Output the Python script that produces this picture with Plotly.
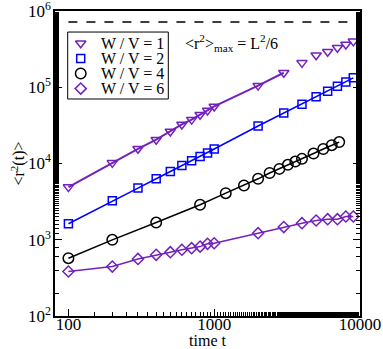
import plotly.graph_objects as go

# ---- data ----
t1 = [100, 200, 300, 400, 500, 600, 700, 800, 900, 1000, 2000, 3000, 4000, 5000, 6000, 7000, 8000, 9000]
r1 = [4900, 10200, 15600, 20500, 26300, 32500, 37600, 43500, 49700, 56000, 105000, 155000, 209000, 263000, 292000, 330000, 364000, 400000]
t2 = [100, 200, 300, 400, 500, 600, 700, 800, 900, 1000, 2000, 3000, 4000, 5000, 6000, 7000, 8000, 9000]
r2 = [1620, 3240, 4760, 6310, 7850, 9440, 10900, 12400, 13700, 15500, 31000, 46000, 60000, 75000, 88600, 103000, 117000, 133000]
t4 = [100, 200, 400, 800, 1200, 1600, 2000, 2400, 2800, 3200, 3600, 4000, 4800, 5600, 6400, 7200]
r4 = [573, 997, 1680, 2880, 4080, 5150, 6300, 7500, 8500, 9600, 10600, 11500, 13500, 15500, 17400, 19100]
t6 = [100, 200, 300, 400, 500, 600, 700, 800, 900, 1000, 2000, 3000, 4000, 5000, 6000, 7000, 8000, 9000]
r6 = [383, 445, 560, 635, 687, 740, 776, 813, 885, 900, 1220, 1466, 1650, 1790, 1860, 1860, 2020, 2020]
n_line1 = 12  # W/V=1 line drawn only up to t=3000

t_max = [100, 10000]
r_max = [720000, 720000]

labels = ["W / V = 1", "W / V = 2", "W / V = 4", "W / V = 6"]
xtick_vals = [100, 1000, 10000]
xtick_text = ["100", "1000", "10000"]
ytick_vals = [1e2, 1e3, 1e4, 1e5, 1e6]
ytick_text = ["10<sup>2</sup>", "10<sup>3</sup>", "10<sup>4</sup>", "10<sup>5</sup>", "10<sup>6</sup>"]

PURPLE = "#7221BC"
BLUE = "#0000FF"
BLACK = "#000000"
FONT = "Liberation Serif"

fig = go.Figure()

# dashed max line
fig.add_trace(go.Scatter(x=t_max, y=r_max, mode="lines",
                         line=dict(color="black", width=1.5, dash="dash"),
                         showlegend=False, hoverinfo="skip"))

series = [
    (t1[:n_line1], r1[:n_line1], t1, r1, PURPLE, "triangle-down-open", 9, 2.0),
    (t2, r2, t2, r2, BLUE, "square-open", 8, 1.5),
    (t4, r4, t4, r4, BLACK, "circle-open", 10.5, 1.5),
    (t6, r6, t6, r6, PURPLE, "diamond-open", 8.5, 1.5),
]
for lx, ly, mx, my, col, sym, size, lw in series:
    fig.add_trace(go.Scatter(x=lx, y=ly, mode="lines", line=dict(color=col, width=lw),
                             showlegend=False, hoverinfo="skip"))
    fig.add_trace(go.Scatter(x=mx, y=my, mode="markers", showlegend=False,
                             marker=dict(symbol=sym, size=size, color=col,
                                         line=dict(color=col, width=1.5))))

# ---- custom legend (box + markers on an overlay axis + text) ----
leg_x0, leg_x1, leg_y0, leg_y1 = 0.0416, 0.3715, 0.7115, 0.931
leg_mark_x = 0.0843
leg_text_x = 0.145
leg_row0, leg_step = 0.894, 0.0495
fig.add_shape(type="rect", xref="paper", yref="paper",
              x0=leg_x0, x1=leg_x1, y0=leg_y0, y1=leg_y1,
              line=dict(color="black", width=1), fillcolor="white", layer="below")
for i, (lx, ly, mx, my, col, sym, size, lw) in enumerate(series):
    yy = leg_row0 - i * leg_step
    fig.add_trace(go.Scatter(x=[leg_mark_x], y=[yy], xaxis="x2", yaxis="y2",
                             mode="markers", showlegend=False, hoverinfo="skip",
                             marker=dict(symbol=sym, size=size, color=col,
                                         line=dict(color=col, width=1.5))))
    fig.add_annotation(text=labels[i], xref="paper", yref="paper",
                       x=leg_text_x, y=yy, xanchor="left", yanchor="middle",
                       showarrow=False, font=dict(family=FONT, size=16, color="black"))

axis_common = dict(
    type="log", showgrid=False, zeroline=False, automargin=False,
    showline=True, linecolor="black", linewidth=1.5,
    ticks="inside", ticklen=7, tickwidth=1, tickcolor="black",
    minor=dict(ticks="inside", ticklen=4, tickwidth=1, tickcolor="black"),
    tickfont=dict(family=FONT, size=17, color="black"),
    ticklabeloverflow="allow",
)

fig.update_xaxes(**axis_common, range=[1.908, 4.0], mirror=True,
                 tickvals=xtick_vals, ticktext=xtick_text, ticklabelstandoff=-8,
                 title=dict(text="time t", font=dict(family=FONT, size=16, color="black"), standoff=0))
fig.update_yaxes(**axis_common, range=[2, 6], mirror="ticks",
                 tickvals=ytick_vals, ticktext=ytick_text, ticklabelstandoff=-1)

# y-axis title
fig.add_annotation(text="<r<sup>2</sup>(t)>", textangle=-90,
                   xref="paper", yref="paper", x=-0.121, y=0.5, xanchor="center", yanchor="middle",
                   showarrow=False, font=dict(family=FONT, size=16, color="black"))

fig.add_annotation(text="<r<sup>2</sup>><sub>max</sub> = L<sup>2</sup>/6",
                   xref="paper", yref="paper", x=0.42, y=0.895, xanchor="left", yanchor="middle",
                   showarrow=False, font=dict(family=FONT, size=16, color="black"))

fig.update_layout(
    width=383, height=349,
    margin=dict(l=55, r=23, t=11, b=33),
    plot_bgcolor="white", paper_bgcolor="white",
    font=dict(family=FONT, color="black"),
    showlegend=False,
    xaxis2=dict(overlaying="x", range=[0, 1], visible=False, fixedrange=True),
    yaxis2=dict(overlaying="y", range=[0, 1], visible=False, fixedrange=True),
)

fig.write_html("out.html", config={"displayModeBar": False},
               post_script="document.body.style.margin='0';document.body.style.overflow='hidden';")
